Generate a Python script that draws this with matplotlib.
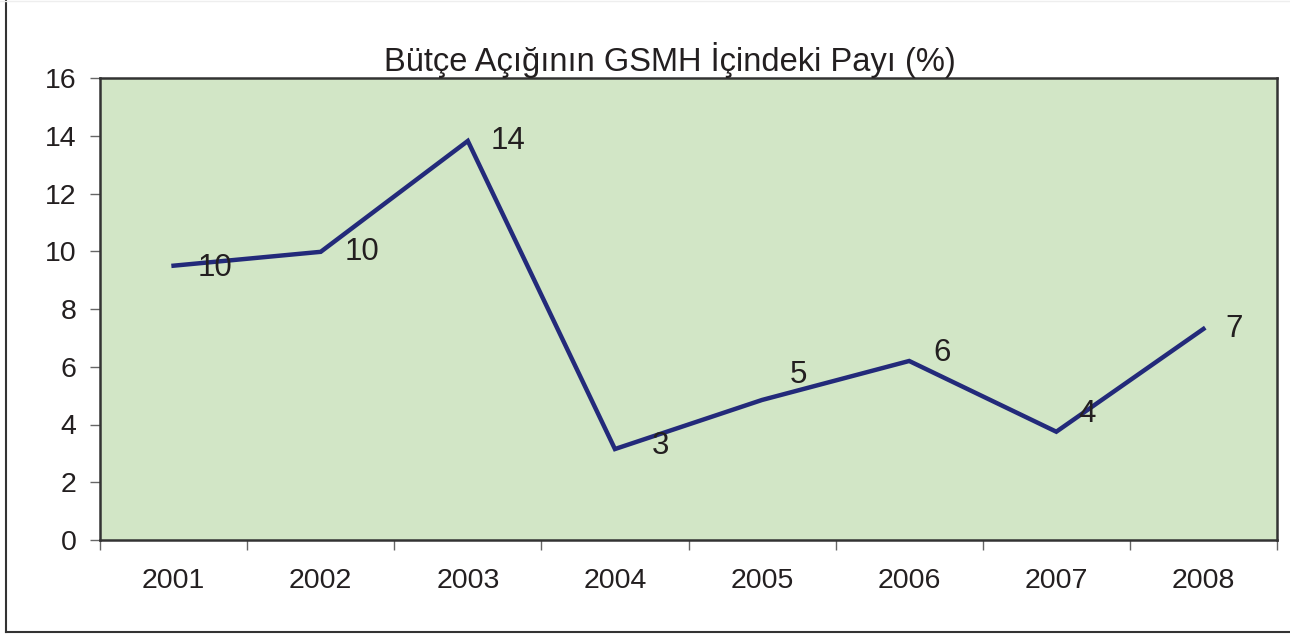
import matplotlib.pyplot as plt
from matplotlib.lines import Line2D
import numpy as np

plt.rcParams['font.family'] = ['Liberation Sans', 'DejaVu Sans']

# chart data
years = ['2001', '2002', '2003', '2004', '2005', '2006', '2007', '2008']
deficit = [9.5, 9.98, 13.82, 3.15, 4.85, 6.2, 3.75, 7.31]
labels = ['10', '10', '14', '3', '5', '6', '4', '7']
title = 'Bütçe Açığının GSMH İçindeki Payı (%)'

# label offsets in points (dx, dy), like Excel's "right" placement
label_offsets = [(30, -2), (30, 0), (29, 0), (33, 2), (26, 18), (24, 6), (22, 13), (22, 0)]

fig = plt.figure(figsize=(12.9, 6.34), dpi=100)
ax = fig.add_axes([100 / 1290, 94 / 634, 1177 / 1290, 462 / 634])
ax.set_facecolor('#d2e6c6')

x = np.arange(len(years))
ax.plot(x, deficit, color='#232a7a', linewidth=3.2, solid_joinstyle='miter')

for xi, yi, lab, off in zip(x, deficit, labels, label_offsets):
    ax.annotate(lab, (xi, yi), xytext=off, textcoords='offset points',
                ha='center', va='center', fontsize=22.5, color='#231f20')

ax.set_xlim(-0.5, len(years) - 0.5)
ax.set_ylim(0, 16)
ax.set_yticks(range(0, 17, 2))
ax.set_xticks(x)
ax.set_xticklabels(years)
ax.set_xticks(np.arange(-0.5, len(years), 1), minor=True)

ax.tick_params(axis='y', direction='out', length=7, width=1, color='#666666',
               labelsize=20.5, labelcolor='#231f20', pad=10)
ax.tick_params(axis='x', which='major', length=0, labelsize=20.5, labelcolor='#231f20', pad=20)
ax.tick_params(axis='x', which='minor', direction='out', length=7, width=1, color='#666666')

for s in ax.spines.values():
    s.set_color('#333333')
    s.set_linewidth(1.8)

fig.text(670 / 1290, 1 - 60 / 634, title, ha='center', va='center', fontsize=23.5, color='#231f20')

# outer chart border (left and bottom visible)
fig.add_artist(Line2D([6 / 1290, 6 / 1290], [2 / 634, 1], transform=fig.transFigure,
                      color='#333333', linewidth=1.5))
fig.add_artist(Line2D([6 / 1290, 1], [2 / 634, 2 / 634], transform=fig.transFigure,
                      color='#333333', linewidth=1.5))
fig.add_artist(Line2D([0, 1], [1 - 1 / 634, 1 - 1 / 634], transform=fig.transFigure,
                      color='#eeeeee', linewidth=1))

fig.savefig('out.png', dpi=100)
